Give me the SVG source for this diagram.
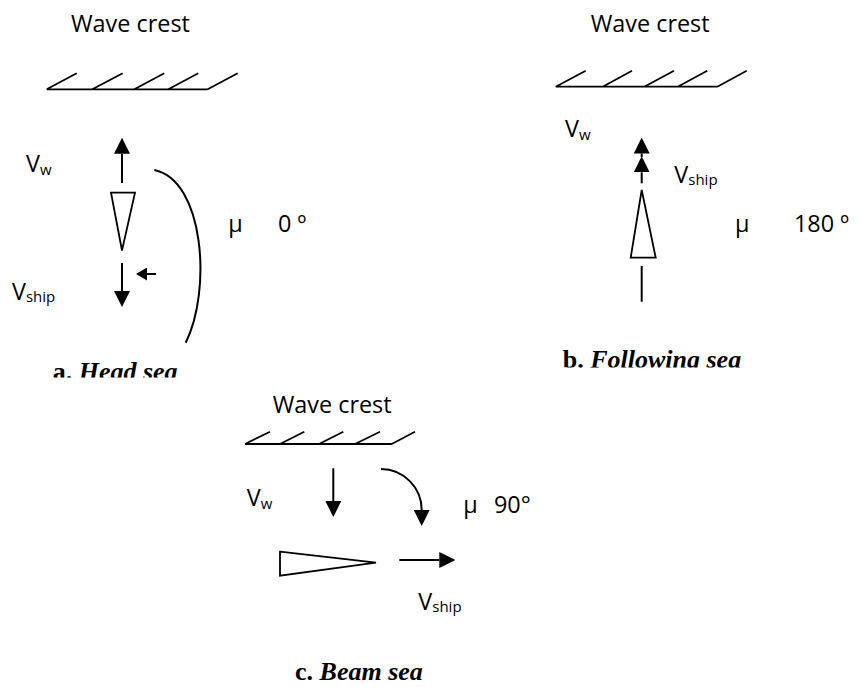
<svg xmlns="http://www.w3.org/2000/svg" width="859" height="687" viewBox="0 0 859 687">
<style>
.ln{stroke:#000;stroke-width:1.8;fill:none}
.ar{stroke:#000;stroke-width:2;fill:none}
.hull{stroke:#000;stroke-width:1.8;fill:#fff;stroke-linejoin:miter}
.lbl{font-family:"Open Sans","Liberation Sans",sans-serif;font-size:23.4px;fill:#000}
.sub{font-size:15px}
.cap{font-family:"Liberation Serif","Times New Roman",serif;font-size:26px;font-weight:bold;fill:#000}
.it{font-style:italic}
</style>
<defs>
<marker id="ah" markerUnits="userSpaceOnUse" viewBox="0 0 16 16" refX="0" refY="8" markerWidth="16" markerHeight="16" orient="auto">
<path d="M0,0 L16,8 L0,16 z" fill="#000"/>
</marker>
<marker id="ahs" markerUnits="userSpaceOnUse" viewBox="0 0 11 13" refX="0" refY="6.5" markerWidth="11" markerHeight="13" orient="auto">
<path d="M0,0 L11,6.5 L0,13 z" fill="#000"/>
</marker>
<clipPath id="clipA"><rect x="0" y="340" width="300" height="37.5"/></clipPath>
<clipPath id="clipB"><rect x="540" y="330" width="319" height="37.5"/></clipPath>
</defs>
<rect width="859" height="687" fill="#fff"/>

<g id="panel-a">
<g id="crest-a">
<text class="lbl" x="71" y="31.7">Wave crest</text>
<path class="ln" d="M46.7,89.3 H207.7 M46.7,89.3 L76.7,73.3 M92.3,89.3 L122.7,73.3 M134.3,89.3 L164.3,73.3 M168.3,89.3 L198.3,73.3 M207.7,89.3 L237.7,73.3"/>
</g>
<g id="ship-a">
<polygon class="hull" points="111,192.7 135,192.7 122,250.5"/>
</g>
<text class="lbl" x="26" y="171.7">V<tspan class="sub" dy="3">w</tspan></text>
<text class="lbl" x="12" y="300">V<tspan class="sub" dy="2">ship</tspan></text>
<text class="lbl" x="228.3" y="232">μ</text>
<text class="lbl" x="278" y="232">0 º</text>
<text class="cap" x="52.7" y="379.5" clip-path="url(#clipA)">a. <tspan class="it">Head sea</tspan></text>
</g>

<g id="panel-b">
<g id="crest-b">
<text class="lbl" x="590.7" y="31.7">Wave crest</text>
<path class="ln" d="M555.7,86.7 H717.3 M555.7,86.7 L585.7,70.7 M602.7,86.7 L632,70.7 M644.3,86.7 L674,70.7 M677.7,86.7 L707.3,70.7 M717.3,86.7 L746.7,70.7"/>
</g>
<g id="ship-b">
<polygon class="hull" points="641.7,190 655.7,257.7 630.7,257.7"/>
</g>
<text class="lbl" x="565" y="136.7">V<tspan class="sub" dy="3">w</tspan></text>
<text class="lbl" x="674.3" y="182.7">V<tspan class="sub" dy="2">ship</tspan></text>
<text class="lbl" x="735" y="232.3">μ</text>
<text class="lbl" x="794" y="232.3">180 º</text>
<text class="cap" x="562.7" y="368.3" clip-path="url(#clipB)">b. <tspan class="it">Following sea</tspan></text>
</g>

<g id="panel-c">
<g id="crest-c">
<text class="lbl" x="272.7" y="413.3">Wave crest</text>
<path class="ln" d="M245,444 H391.7 M245,444 L270,431.7 M280,444 L304.3,431.7 M319,444 L343.3,431.7 M355,444 L380,431.7 M391.7,444 L415,431.7"/>
</g>
<g id="ship-c">
<polygon class="hull" points="280,551.7 376,562.7 280,575.7"/>
</g>
<text class="lbl" x="246.7" y="506">V<tspan class="sub" dy="3">w</tspan></text>
<text class="lbl" x="418.3" y="610">V<tspan class="sub" dy="2">ship</tspan></text>
<text class="lbl" x="463.3" y="513.3">μ</text>
<text class="lbl" x="494" y="513.3">90°</text>
<text class="cap" x="295" y="679.5">c. <tspan class="it">Beam sea</tspan></text>
</g>

<g id="connectors">
<line class="ar" x1="122" y1="183" x2="122" y2="153.7" marker-end="url(#ah)"/>
<line class="ar" x1="122" y1="263" x2="122" y2="291" marker-end="url(#ah)"/>
<line class="ar" x1="156" y1="274" x2="147" y2="274" marker-end="url(#ahs)"/>
<path class="ar" d="M154.3,170 C204,180 212,290 185.7,342.7"/>
<line class="ar" x1="641.7" y1="183.3" x2="641.7" y2="172.3" marker-end="url(#ah)"/>
<line class="ar" x1="641.7" y1="157" x2="641.7" y2="153.5" marker-end="url(#ah)"/>
<line class="ar" x1="641.7" y1="266" x2="641.7" y2="301.7"/>
<line class="ar" x1="333.3" y1="468.3" x2="333.3" y2="501" marker-end="url(#ah)"/>
<path class="ar" d="M381,469 A41,41 0 0 1 421.7,510" marker-end="url(#ah)"/>
<line class="ar" x1="399.3" y1="560" x2="439.3" y2="560" marker-end="url(#ah)"/>
</g>
</svg>
